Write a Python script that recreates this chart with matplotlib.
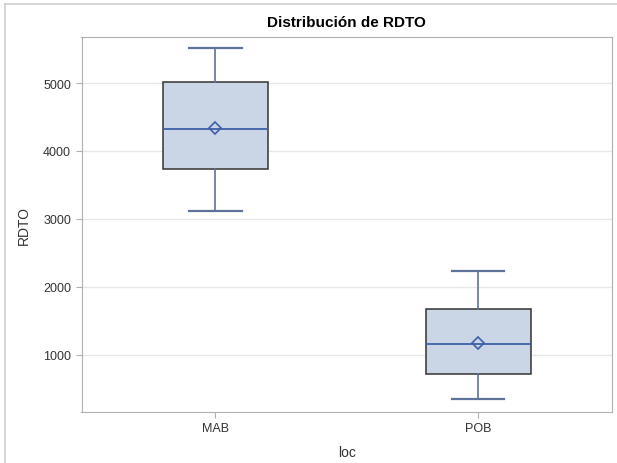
import matplotlib.pyplot as plt
from matplotlib.lines import Line2D

plt.rcParams['font.family'] = ['Liberation Sans', 'DejaVu Sans']

# summary values
categories = ['MAB', 'POB']
whisker_low = [3118, 350]
q1 = [3728, 719]
median = [4325, 1152]
q3 = [5020, 1666]
whisker_high = [5513, 2236]
mean = [4344, 1177]

stats = []
for i, name in enumerate(categories):
    stats.append({'label': name, 'whislo': whisker_low[i], 'q1': q1[i], 'med': median[i],
                  'q3': q3[i], 'whishi': whisker_high[i], 'mean': mean[i], 'fliers': []})

fig = plt.figure(figsize=(6.17, 4.64), dpi=100)
ax = fig.add_axes([81.5 / 617, 1 - 412.5 / 464, (612 - 81.5) / 617, (412.5 - 38) / 464])

ax.bxp(stats, positions=[1, 2], widths=0.4, patch_artist=True, showmeans=True, showfliers=False,
       boxprops=dict(facecolor='#CAD5E6', edgecolor='#333333', linewidth=1.1),
       medianprops=dict(color='#3F5FA8', linewidth=1.3),
       whiskerprops=dict(color='#5E7399', linewidth=1.2),
       capprops=dict(color='#5E7399', linewidth=1.6),
       capwidths=0.2,
       meanprops=dict(marker='D', markerfacecolor='none', markeredgecolor='#3F5FA8',
                      markersize=6, markeredgewidth=1.2))

ax.set_xlim(0.49, 2.51)
ax.set_ylim(160, 5680)
ax.set_yticks([1000, 2000, 3000, 4000, 5000])
ax.grid(axis='y', color='#E8E8E8', linewidth=1)
ax.set_axisbelow(True)
for s in ax.spines.values():
    s.set_color('#B0B0B0')
ax.tick_params(colors='#B0B0B0', labelcolor='#333333', labelsize=9, length=4)

ax.set_title('Distribución de RDTO', fontsize=11, fontweight='bold', pad=8)
ax.set_ylabel('RDTO', fontsize=10, color='#333333', labelpad=9)
ax.set_xlabel('loc', fontsize=10, color='#333333', labelpad=8)

# outer frame at left and top
fig.add_artist(Line2D([5 / 617, 5 / 617], [0, 1 - 5 / 464], color='#D0D0D0', linewidth=1.2))
fig.add_artist(Line2D([5 / 617, 1], [1 - 5 / 464, 1 - 5 / 464], color='#D0D0D0', linewidth=1.2))

fig.savefig('out.png', dpi=100)
